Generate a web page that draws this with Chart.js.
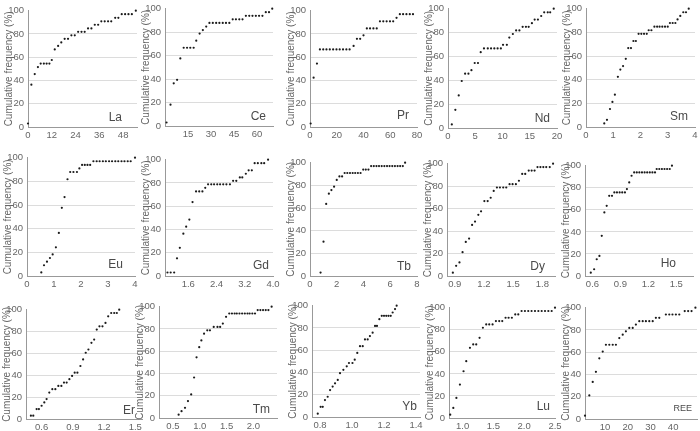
<!DOCTYPE html>
<html><head><meta charset="utf-8">
<script src="https://cdn.jsdelivr.net/npm/chart.js@4.4.1/dist/chart.umd.min.js"></script>
<style>
html,body{margin:0;padding:0;background:#fff;}
#wrap{position:relative;width:700px;height:431px;overflow:hidden;background:#fff;}
#wrap canvas{position:absolute;}
</style></head><body><div id="wrap"></div>
<script>
// ---------- DATA ----------
const yTitle = 'Cumulative frequency (%)';

const laTicks = ['0','12','24','36','48'];
const laX = [0,1.7,3.4,5.0,6.4,8.0,9.4,10.8,12.0,13.5,15.2,16.8,18.5,20.2,21.9,23.6,25.3,27.0,28.6,30.3,32.0,33.7,35.4,37.0,38.7,40.4,42.0,44.0,45.6,47.3,49.0,50.7,52.4,54.4];
const laY = [3.0,36.4,45.5,51.5,54.5,54.5,54.5,54.5,57.6,66.7,69.7,72.7,75.8,75.8,78.8,78.8,81.8,81.8,81.8,84.8,84.8,87.9,87.9,90.9,90.9,90.9,90.9,93.9,93.9,97.0,97.0,97.0,97.0,100];

const ceTicks = ['15','30','45','60'];
const ceX = [1.0,3.6,5.7,7.9,10.0,12.2,14.4,16.5,18.7,20.4,22.6,24.7,26.9,29.0,31.2,33.4,35.5,37.7,39.8,42.0,44.2,46.3,48.5,50.6,52.8,55.0,57.1,59.3,61.4,63.6,65.8,67.9,70.0];
const ceY = [3.0,18.2,36.4,39.4,57.6,66.7,66.7,66.7,66.7,72.7,78.8,81.8,84.8,87.9,87.9,87.9,87.9,87.9,87.9,87.9,90.9,90.9,90.9,90.9,93.9,93.9,93.9,93.9,93.9,93.9,97.0,97.0,100];

const prTicks = ['0','20','40','60','80'];
const prX = [0.5,2.7,5.2,7.4,9.9,12.3,14.8,17.3,19.8,22.2,24.7,27.2,29.6,32.6,35.1,37.5,40.0,42.5,44.9,47.4,49.9,52.3,54.8,57.3,59.8,62.2,64.7,67.2,69.6,72.1,74.6,77.0];
const prY = [3.0,42.4,54.5,66.7,66.7,66.7,66.7,66.7,66.7,66.7,66.7,66.7,66.7,69.7,75.8,75.8,78.8,84.8,84.8,84.8,84.8,90.9,90.9,90.9,90.9,90.9,93.9,97.0,97.0,97.0,97.0,97.0];

const ndTicks = ['0','5','10','15','20'];
const ndX = [0.7,1.35,1.97,2.52,3.14,3.75,4.3,4.9,5.5,6.0,6.6,7.3,7.9,8.5,9.1,9.7,10.1,10.8,11.25,11.9,12.5,13.1,13.7,14.3,14.8,15.4,15.9,16.5,17.1,17.65,18.3,18.75,19.4];
const ndY = [3.0,15.2,27.3,39.4,45.5,45.5,48.5,54.5,54.5,63.6,66.7,66.7,66.7,66.7,66.7,66.7,69.7,69.7,75.8,78.8,81.8,81.8,84.8,84.8,84.8,87.9,90.9,90.9,93.9,97.0,97.0,97.0,100];

const smTicks = ['0','1','2','3','4'];
const smX = [0.67,0.77,0.88,0.97,1.06,1.17,1.26,1.36,1.46,1.55,1.65,1.74,1.83,1.93,2.03,2.13,2.23,2.30,2.40,2.51,2.61,2.70,2.80,2.90,3.00,3.08,3.18,3.28,3.36,3.46,3.57,3.67,3.77];
const smY = [3.0,6.1,15.2,21.2,27.3,42.4,48.5,51.5,57.6,66.7,66.7,72.7,72.7,78.8,78.8,78.8,78.8,81.8,81.8,84.8,84.8,84.8,84.8,84.8,84.8,87.9,87.9,87.9,90.9,93.9,97.0,97.0,100];

const euTicks = ['0','1','2','3','4'];
const euX = [0.53,0.63,0.74,0.85,0.95,1.07,1.18,1.29,1.39,1.50,1.60,1.72,1.85,1.94,2.04,2.14,2.24,2.34,2.46,2.58,2.69,2.81,2.92,3.04,3.15,3.27,3.38,3.50,3.61,3.73,3.84,4.0];
const euY = [3.0,9.1,12.1,15.2,18.2,24.2,36.4,57.6,66.7,81.8,87.9,87.9,87.9,90.9,93.9,93.9,93.9,93.9,97.0,97.0,97.0,97.0,97.0,97.0,97.0,97.0,97.0,97.0,97.0,97.0,97.0,100];

const gdTicks = ['1.6','2.4','3.2','4.0'];
const gdX = [1.01,1.10,1.20,1.28,1.36,1.46,1.54,1.63,1.72,1.82,1.91,2.00,2.08,2.16,2.25,2.33,2.42,2.50,2.59,2.68,2.78,2.87,2.96,3.06,3.13,3.23,3.31,3.40,3.48,3.57,3.67,3.75,3.86];
const gdY = [3.0,3.0,3.0,15.2,24.2,36.4,42.4,48.5,63.6,72.7,72.7,72.7,75.8,78.8,78.8,78.8,78.8,78.8,78.8,78.8,78.8,81.8,81.8,84.8,84.8,87.9,90.9,90.9,97.0,97.0,97.0,97.0,100];

const tbTicks = ['0','2','4','6','8'];
const tbX = [0.79,1.01,1.21,1.41,1.60,1.80,2.00,2.20,2.40,2.59,2.79,2.99,3.19,3.38,3.58,3.78,3.98,4.17,4.37,4.57,4.77,4.97,5.16,5.36,5.56,5.76,5.95,6.15,6.35,6.55,6.74,6.94,7.11];
const tbY = [3.0,30.3,63.6,72.7,75.8,78.8,84.8,87.9,87.9,90.9,90.9,90.9,90.9,90.9,90.9,90.9,93.9,93.9,93.9,97.0,97.0,97.0,97.0,97.0,97.0,97.0,97.0,97.0,97.0,97.0,97.0,97.0,100];

const dyTicks = ['0.9','1.2','1.5','1.8'];
const dyX = [0.88,0.914,0.948,0.98,1.013,1.047,1.078,1.108,1.142,1.17,1.204,1.238,1.269,1.30,1.333,1.364,1.398,1.429,1.463,1.494,1.528,1.559,1.593,1.624,1.66,1.69,1.72,1.75,1.78,1.81,1.84,1.876,1.91];
const dyY = [3.0,9.1,12.1,21.2,30.3,33.3,45.5,48.5,54.5,57.6,66.7,66.7,69.7,75.8,78.8,78.8,78.8,78.8,81.8,81.8,81.8,84.8,90.9,90.9,93.9,93.9,93.9,97.0,97.0,97.0,97.0,97.0,100];

const hoTicks = ['0.6','0.9','1.2','1.5'];
const hoX = [0.582,0.618,0.646,0.675,0.70,0.728,0.753,0.78,0.81,0.835,0.863,0.892,0.92,0.949,0.97,0.995,1.02,1.048,1.076,1.104,1.132,1.16,1.188,1.216,1.244,1.272,1.29,1.318,1.346,1.374,1.402,1.43,1.454];
const hoY = [3.0,6.1,15.2,18.2,36.4,57.6,63.6,72.7,72.7,75.8,75.8,75.8,75.8,75.8,78.8,84.8,90.9,93.9,93.9,93.9,93.9,93.9,93.9,93.9,93.9,93.9,97.0,97.0,97.0,97.0,97.0,97.0,100];

const erTicks = ['0.6','0.9','1.2','1.5'];
const erX = [0.497,0.52,0.552,0.574,0.60,0.626,0.648,0.674,0.703,0.732,0.761,0.79,0.815,0.841,0.867,0.893,0.918,0.944,0.973,0.999,1.024,1.05,1.079,1.105,1.13,1.156,1.185,1.214,1.24,1.269,1.298,1.323,1.346];
const erY = [3.0,3.0,9.1,9.1,12.1,15.2,18.2,24.2,27.3,27.3,30.3,30.3,33.3,33.3,36.4,39.4,42.4,42.4,48.5,54.5,60.6,63.6,69.7,72.7,81.8,84.8,84.8,87.9,93.9,97.0,97.0,97.0,100];

const tmTicks = ['0.5','1.0','1.5','2.0'];
const tmX = [0.606,0.66,0.725,0.78,0.84,0.894,0.94,0.99,1.03,1.08,1.14,1.19,1.26,1.33,1.38,1.43,1.49,1.55,1.60,1.65,1.69,1.74,1.79,1.84,1.89,1.93,1.98,2.03,2.08,2.13,2.18,2.23,2.28,2.34];
const tmY = [3.0,6.1,9.1,15.2,21.2,36.4,54.5,63.6,69.7,75.8,78.8,78.8,81.8,81.8,81.8,84.8,90.9,93.9,93.9,93.9,93.9,93.9,93.9,93.9,93.9,93.9,93.9,93.9,97.0,97.0,97.0,97.0,97.0,100];

const ybTicks = ['0.8','1.0','1.2','1.4'];
const ybX = [0.786,0.804,0.817,0.831,0.848,0.863,0.879,0.894,0.911,0.925,0.946,0.967,0.981,1.003,1.017,1.033,1.05,1.067,1.081,1.098,1.112,1.129,1.144,1.156,1.171,1.186,1.2,1.214,1.228,1.242,1.254,1.269,1.279];
const ybY = [3.0,9.1,9.1,15.2,18.2,24.2,27.3,30.3,33.3,39.4,42.4,45.5,48.5,48.5,51.5,57.6,63.6,63.6,69.7,69.7,72.7,75.8,81.8,81.8,87.9,90.9,90.9,90.9,90.9,90.9,93.9,97.0,100];

const luTicks = ['1.0','1.5','2.0','2.5'];
const luX = [0.80,0.85,0.90,0.957,1.016,1.06,1.12,1.173,1.222,1.276,1.33,1.384,1.433,1.487,1.541,1.595,1.644,1.698,1.747,1.80,1.855,1.904,1.958,2.012,2.066,2.12,2.175,2.23,2.284,2.338,2.392,2.446,2.5];
const luY = [3.0,9.1,18.2,30.3,42.4,51.5,63.6,66.7,66.7,72.7,81.8,84.8,84.8,84.8,87.9,87.9,87.9,90.9,90.9,90.9,93.9,93.9,97.0,97.0,97.0,97.0,97.0,97.0,97.0,97.0,97.0,97.0,100];

const reeTicks = ['10','20','30','40'];
const reeX = [1.2,3.1,4.6,6.0,7.5,9.0,10.4,11.9,13.4,14.8,16.3,17.8,19.2,20.7,22.2,23.6,25.1,26.6,28.0,29.5,31.0,32.4,33.9,36.8,38.3,39.7,41.2,42.7,45.1,46.6,48.1,49.8];
const reeY = [3.0,21.2,33.3,42.4,54.5,60.6,66.7,66.7,66.7,66.7,72.7,75.8,78.8,81.8,81.8,84.8,87.9,87.9,87.9,87.9,87.9,90.9,90.9,93.9,93.9,93.9,93.9,93.9,97.0,97.0,97.0,100];

// ---------- PANELS (axis ranges + layout in page pixels) ----------
const panels = [
  {name:'La', x:laX, y:laY, ticks:laTicks, min:0, max:55, box:[28,137,9,127], lab:[15,6,12]},
  {name:'Ce', x:ceX, y:ceY, ticks:ceTicks, min:0, max:70.5, box:[165,273,7,126], lab:[7,6,12]},
  {name:'Pr', x:prX, y:prY, ticks:prTicks, min:0, max:80, box:[310,417,9,127], lab:[8,8,12]},
  {name:'Nd', x:ndX, y:ndY, ticks:ndTicks, min:0, max:20, box:[448,557,7,128], lab:[7,6,12]},
  {name:'Sm', x:smX, y:smY, ticks:smTicks, min:0, max:4, box:[586,695,7,127], lab:[7,7,12]},
  {name:'Eu', x:euX, y:euY, ticks:euTicks, min:0, max:4, box:[27,135,156,276], lab:[12,8,12]},
  {name:'Gd', x:gdX, y:gdY, ticks:gdTicks, min:0.94, max:4.0, box:[165,273,158,276], lab:[4,7,12]},
  {name:'Tb', x:tbX, y:tbY, ticks:tbTicks, min:0, max:8, box:[310,417,161,276], lab:[6,6,12]},
  {name:'Dy', x:dyX, y:dyY, ticks:dyTicks, min:0.82, max:1.93, box:[447,555,162,276], lab:[10,6,12]},
  {name:'Ho', x:hoX, y:hoY, ticks:hoTicks, min:0.52, max:1.68, box:[585,693,164,276], lab:[17,9,12]},
  {name:'Er', x:erX, y:erY, ticks:erTicks, min:0.45, max:1.565, box:[26,142,308,419], lab:[7,5,12]},
  {name:'Tm', x:tmX, y:tmY, ticks:tmTicks, min:0.24, max:2.44, box:[159,277,305,418], lab:[7,5,12]},
  {name:'Yb', x:ybX, y:ybY, ticks:ybTicks, min:0.75, max:1.425, box:[312,420,304,417], lab:[3,7,12]},
  {name:'Lu', x:luX, y:luY, ticks:luTicks, min:0.78, max:2.5, box:[449,555,306,418], lab:[5,8,12]},
  {name:'REE', x:reeX, y:reeY, ticks:reeTicks, min:1.2, max:50.5, box:[585,697,306,419], lab:[5,8,9]}
];

const WY = 30, PT = 8, PR = 14, HX = 16;
const FONT = '"Liberation Sans", Arial, Helvetica, sans-serif';
const TXT = '#666', AXIS = '#999', GRID = '#dcdcdc';

const labelPlugin = {
  id: 'elemLabel',
  afterDraw(chart, args, opts) {
    const {ctx, chartArea} = chart;
    ctx.save();
    ctx.font = opts.size + 'px ' + FONT;
    ctx.fillStyle = '#4a4a4a';
    ctx.textAlign = 'right';
    ctx.textBaseline = 'alphabetic';
    ctx.fillText(opts.text, chartArea.right - opts.dx, chartArea.bottom - opts.dy);
    ctx.restore();
  }
};

const wrap = document.getElementById('wrap');
panels.forEach(p => {
  const [L, R, T, B] = p.box;
  const cw = R - L + WY + PR, ch = B - T + PT + HX;
  const cv = document.createElement('canvas');
  cv.width = cw; cv.height = ch;
  cv.style.left = (L - WY) + 'px'; cv.style.top = (T - PT) + 'px';
  cv.style.width = cw + 'px'; cv.style.height = ch + 'px';
  wrap.appendChild(cv);
  const tickVals = p.ticks.map(Number);
  new Chart(cv, {
    type: 'scatter',
    data: {datasets: [{
      data: p.x.map((v, i) => ({x: v, y: p.y[i]})),
      pointRadius: 1.1, pointHoverRadius: 1.1, pointBorderWidth: 0,
      backgroundColor: '#1a1a1a', borderColor: '#1a1a1a', clip: false
    }]},
    options: {
      responsive: false, animation: false, devicePixelRatio: 1, events: [],
      layout: {padding: {left: 0, top: PT, right: PR, bottom: 0}},
      plugins: {legend: {display: false}, tooltip: {enabled: false},
        elemLabel: {text: p.name, dx: p.lab[0], dy: p.lab[1], size: p.lab[2]}},
      scales: {
        x: {type: 'linear', min: p.min, max: p.max,
          afterBuildTicks: s => { s.ticks = tickVals.map(v => ({value: v})); },
          afterFit: s => { s.height = HX; },
          grid: {display: false, drawTicks: false},
          border: {display: true, color: AXIS, width: 1},
          ticks: {autoSkip: false, maxRotation: 0, minRotation: 0, padding: 3, color: TXT,
            font: {family: FONT, size: 9.5}, callback: (v, i) => p.ticks[i]}},
        y: {type: 'linear', min: 0, max: 100,
          afterFit: s => { s.width = WY; },
          grid: {drawTicks: false, lineWidth: 1,
            color: c => (c.tick && c.tick.value > 0 && c.tick.value < 100) ? GRID : 'rgba(0,0,0,0)'},
          border: {display: true, color: AXIS, width: 1},
          ticks: {stepSize: 20, padding: 4, color: TXT, font: {family: FONT, size: 9.5}},
          title: {display: true, text: yTitle, color: TXT, font: {family: FONT, size: 10},
            padding: {top: 5, bottom: 0}}}
      }
    },
    plugins: [labelPlugin]
  });
});
</script></body></html>
